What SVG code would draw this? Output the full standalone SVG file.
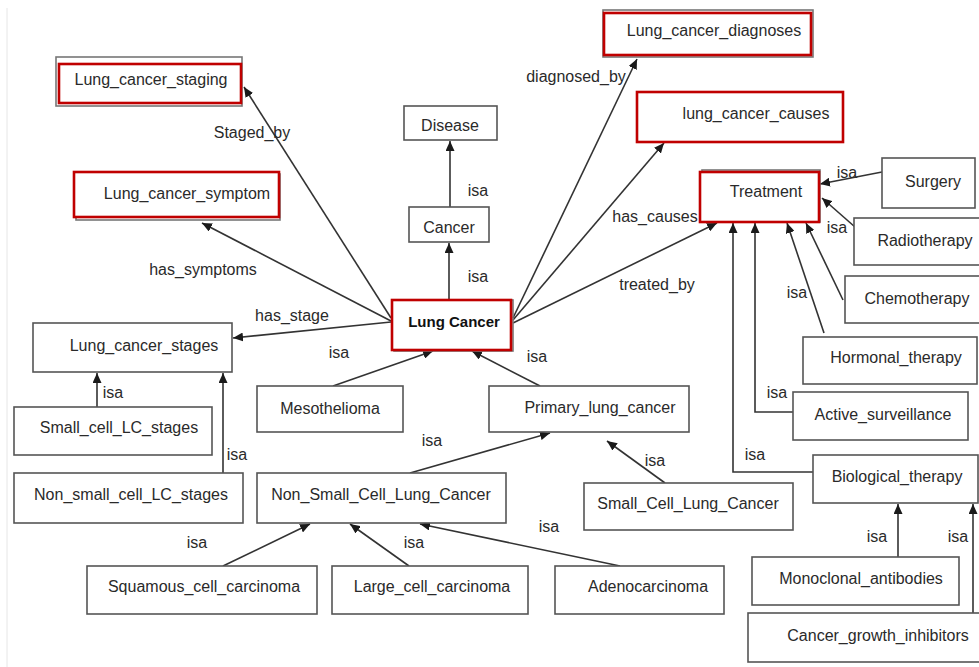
<svg xmlns="http://www.w3.org/2000/svg" width="979" height="667" viewBox="0 0 979 667">
<defs>
<marker id="ah" markerUnits="userSpaceOnUse" markerWidth="10" markerHeight="9" refX="10" refY="4.5" orient="auto">
<path d="M0,0 L10,4.5 L0,9 z" fill="#1a1a1a"/>
</marker>
<style>
.bx{fill:#fff;stroke:#555;stroke-width:1.6}
.rd{fill:#fff;stroke:#c00000;stroke-width:2.6}
.sh{fill:none;stroke:#777;stroke-width:1.6}
.t{font-family:"Liberation Sans",Arial,sans-serif;font-size:16px;fill:#2a2a2a;text-anchor:middle}
.b{font-weight:bold;font-size:15px;fill:#111}
.e{fill:none;stroke:#333;stroke-width:1.6;marker-end:url(#ah)}
.l{font-family:"Liberation Sans",Arial,sans-serif;font-size:16px;fill:#2a2a2a;text-anchor:middle}
</style>
</defs>
<rect x="0" y="0" width="979" height="667" fill="#fff"/>
<line x1="7" y1="8" x2="7" y2="667" stroke="#e6e6e6" stroke-width="1"/>

<g id="connectors">
<path class="e" d="M450,207 L450,141"/>
<path class="e" d="M449,300 L449,243"/>
<path class="e" d="M391,318 L244,87"/>
<path class="e" d="M391,321 L202,223"/>
<path class="e" d="M391,322 L233,338"/>
<path class="e" d="M513,318 L637,59"/>
<path class="e" d="M513,320 L664,143"/>
<path class="e" d="M513,323 L717,223"/>
<path class="e" d="M882,172 L820,184"/>
<path class="e" d="M855,227 L822,198"/>
<path class="e" d="M843,300 L806,223"/>
<path class="e" d="M824,333 L787,223"/>
<path class="e" d="M793,412 L755,412 L755,223"/>
<path class="e" d="M813,472 L733,472 L733,223"/>
<path class="e" d="M898,557 L898,504"/>
<path class="e" d="M973,613 L973,504"/>
<path class="e" d="M333,386 L433,351"/>
<path class="e" d="M540,386 L472,351"/>
<path class="e" d="M410,473 L550,433"/>
<path class="e" d="M665,483 L607,441"/>
<path class="e" d="M223,566 L310,524"/>
<path class="e" d="M409,566 L350,524"/>
<path class="e" d="M620,566 L420,524"/>
<path class="e" d="M97,407 L97,373"/>
<path class="e" d="M223,473 L223,373"/>
<text class="l" x="252" y="138">Staged_by</text>
<text class="l" x="203" y="275">has_symptoms</text>
<text class="l" x="292" y="321">has_stage</text>
<text class="l" x="576" y="82">diagnosed_by</text>
<text class="l" x="655" y="222">has_causes</text>
<text class="l" x="657" y="290">treated_by</text>
<text class="l" x="478" y="196">isa</text>
<text class="l" x="478" y="282">isa</text>
<text class="l" x="847" y="178">isa</text>
<text class="l" x="837" y="233">isa</text>
<text class="l" x="797" y="298">isa</text>
<text class="l" x="777" y="398">isa</text>
<text class="l" x="755" y="460">isa</text>
<text class="l" x="877" y="542">isa</text>
<text class="l" x="958" y="542">isa</text>
<text class="l" x="113" y="398">isa</text>
<text class="l" x="237" y="460">isa</text>
<text class="l" x="339" y="358">isa</text>
<text class="l" x="537" y="362">isa</text>
<text class="l" x="432" y="446">isa</text>
<text class="l" x="655" y="466">isa</text>
<text class="l" x="197" y="548">isa</text>
<text class="l" x="414" y="548">isa</text>
<text class="l" x="549" y="532">isa</text>
</g>

<g id="lung_cancer_staging"><rect class="sh" x="56" y="57" width="186" height="49"/><rect class="rd" x="59" y="64" width="182" height="39"/><text class="t" x="151" y="85">Lung_cancer_staging</text></g>
<g id="lung_cancer_symptom"><rect class="sh" x="76" y="174" width="204" height="46"/><rect class="rd" x="74" y="172" width="205" height="45"/><text class="t" x="187" y="199">Lung_cancer_symptom</text></g>
<g id="disease"><rect class="bx" x="404" y="106" width="93" height="34"/><text class="t" x="450" y="131">Disease</text></g>
<g id="cancer"><rect class="bx" x="409" y="207" width="80" height="35"/><text class="t" x="449" y="233">Cancer</text></g>
<g id="lung_cancer_diagnoses"><rect class="sh" x="603" y="10" width="210" height="47"/><rect class="rd" x="604" y="13" width="207" height="42"/><text class="t" x="714" y="36">Lung_cancer_diagnoses</text></g>
<g id="lung_cancer_causes"><rect class="rd" x="637" y="92" width="206" height="50"/><text class="t" x="756" y="119">lung_cancer_causes</text></g>
<g id="treatment"><rect class="sh" x="702" y="170" width="118" height="52"/><rect class="rd" x="700" y="172" width="119" height="50"/><text class="t" x="766" y="197">Treatment</text></g>
<g id="surgery"><rect class="bx" x="882" y="158" width="93" height="50"/><text class="t" x="933" y="187">Surgery</text></g>
<g id="radiotherapy"><rect class="bx" x="854" y="218" width="130" height="47"/><text class="t" x="925" y="246">Radiotherapy</text></g>
<g id="chemotherapy"><rect class="bx" x="845" y="276" width="140" height="47"/><text class="t" x="917" y="304">Chemotherapy</text></g>
<g id="hormonal_therapy"><rect class="bx" x="803" y="337" width="174" height="47"/><text class="t" x="896" y="363">Hormonal_therapy</text></g>
<g id="active_surveillance"><rect class="bx" x="793" y="392" width="175" height="48"/><text class="t" x="883" y="420">Active_surveillance</text></g>
<g id="biological_therapy"><rect class="bx" x="813" y="455" width="165" height="48"/><text class="t" x="897" y="482">Biological_therapy</text></g>
<g id="monoclonal_antibodies"><rect class="bx" x="752" y="557" width="207" height="48"/><text class="t" x="861" y="584">Monoclonal_antibodies</text></g>
<g id="cancer_growth_inhibitors"><rect class="bx" x="748" y="613" width="240" height="49"/><text class="t" x="878" y="641">Cancer_growth_inhibitors</text></g>
<g id="lung_cancer"><rect class="sh" x="394" y="300" width="119" height="51"/><rect class="rd" x="392" y="300" width="119" height="50"/><text class="t b" x="454" y="327">Lung Cancer</text></g>
<g id="lung_cancer_stages"><rect class="bx" x="33" y="323" width="199" height="49"/><text class="t" x="144" y="351">Lung_cancer_stages</text></g>
<g id="small_cell_lc_stages"><rect class="bx" x="14" y="407" width="198" height="48"/><text class="t" x="119" y="433">Small_cell_LC_stages</text></g>
<g id="non_small_cell_lc_stages"><rect class="bx" x="14" y="473" width="229" height="50"/><text class="t" x="131" y="500">Non_small_cell_LC_stages</text></g>
<g id="mesothelioma"><rect class="bx" x="257" y="386" width="146" height="46"/><text class="t" x="330" y="414">Mesothelioma</text></g>
<g id="primary_lung_cancer"><rect class="bx" x="489" y="386" width="200" height="46"/><text class="t" x="600" y="413">Primary_lung_cancer</text></g>
<g id="non_small_cell_lung_cancer"><rect class="bx" x="257" y="473" width="249" height="50"/><text class="t" x="381" y="500">Non_Small_Cell_Lung_Cancer</text></g>
<g id="small_cell_lung_cancer"><rect class="bx" x="584" y="483" width="209" height="47"/><text class="t" x="688" y="509">Small_Cell_Lung_Cancer</text></g>
<g id="squamous_cell_carcinoma"><rect class="bx" x="87" y="566" width="230" height="48"/><text class="t" x="204" y="592">Squamous_cell_carcinoma</text></g>
<g id="large_cell_carcinoma"><rect class="bx" x="332" y="566" width="196" height="48"/><text class="t" x="432" y="592">Large_cell_carcinoma</text></g>
<g id="adenocarcinoma"><rect class="bx" x="555" y="566" width="169" height="48"/><text class="t" x="648" y="592">Adenocarcinoma</text></g>
</svg>
